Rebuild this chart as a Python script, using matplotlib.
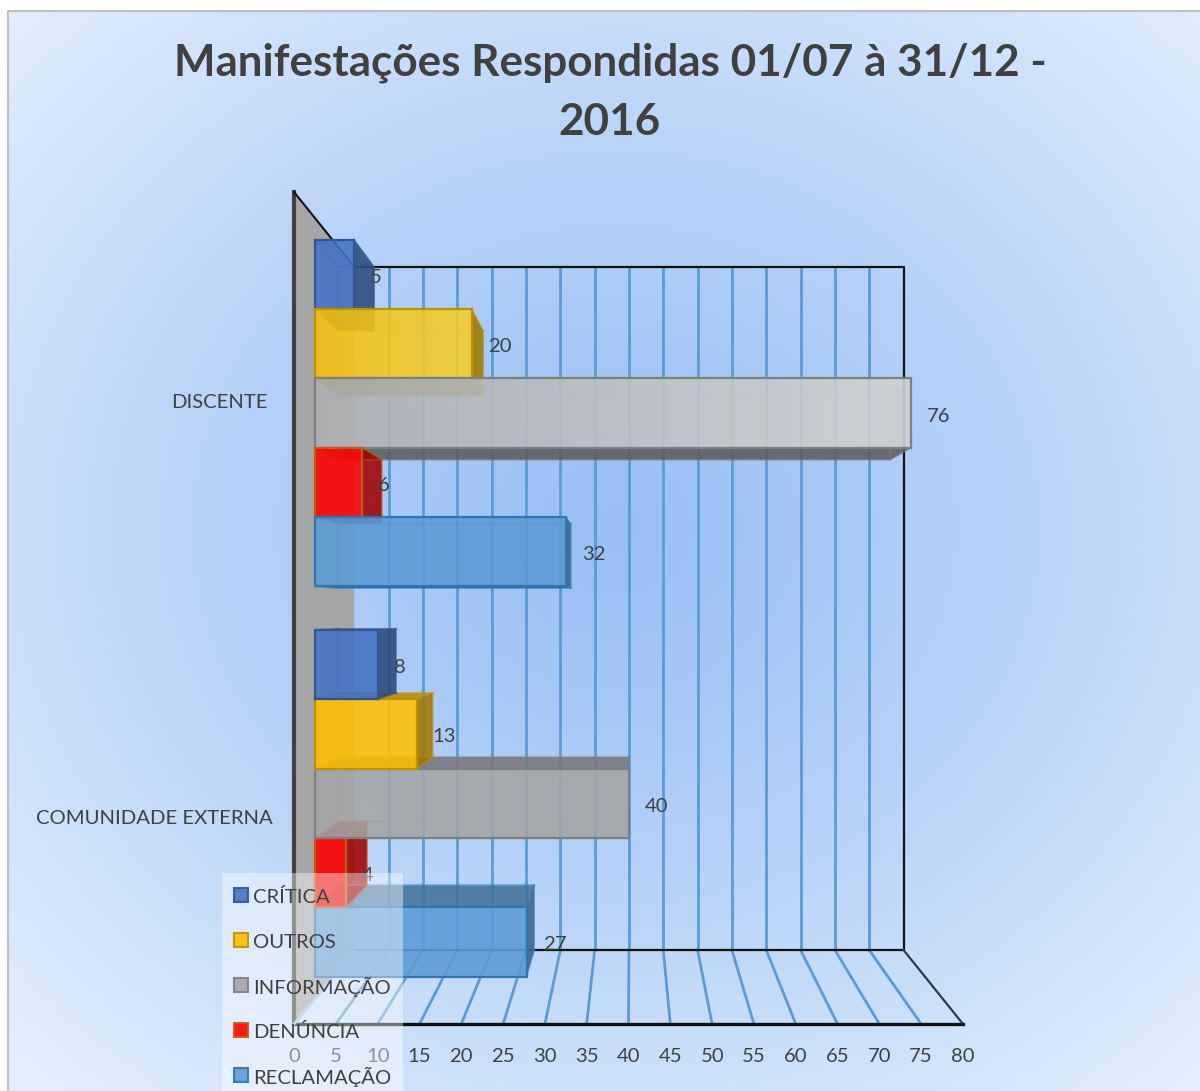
import numpy as np
import matplotlib
matplotlib.use('Agg')
import matplotlib.pyplot as plt
from matplotlib.patches import Polygon, Rectangle
from matplotlib.colors import to_rgb

plt.rcParams['font.family'] = ['Lato', 'DejaVu Sans']

title = 'Manifestações Respondidas 01/07 à 31/12 -\n2016'
groups = ['DISCENTE', 'COMUNIDADE EXTERNA']
series = ['CRÍTICA', 'OUTROS', 'INFORMAÇÃO', 'DENÚNCIA', 'RECLAMAÇÃO']
discente = [5, 20, 76, 6, 32]
comunidade = [8, 13, 40, 4, 27]
xticks = list(range(0, 85, 5))

colors = ['#4472c4', '#ffc000', '#a5a5a5', '#ff0000', '#5b9bd5']
edges = ['#2f5597', '#bf9000', '#7f7f7f', '#c55a11', '#2e75b6']
group_label_x = [219, 154]
# lit bars of the upper group fade left to right
ramps = {(0, 1): ('#f4c010', '#f4cf30'), (0, 2): ('#aeb0b2', '#d2d2d2')}

# perspective of the chart box, screen pixels
VX, VY = 631, 611          # vanishing point
X0, SX = 294, 8.3625       # front plane: pixels for value 0 and per unit
TOP, BOTTOM = 192, 1024    # front plane top / floor
S_BACK = 0.821             # depth scale of the back wall
S_BAR_F, S_BAR_B = 0.938, 0.869  # depth scale of bar front / back
BAR_H = 73.9
BAND = (BOTTOM - TOP) / len(groups)
GAP = (BAND - BAR_H * len(series)) / 2
FS = 14.6


def proj(v, h, s):
    return (VX + s * (X0 + SX * v - VX), VY + s * (h - VY))


def shade(c, f):
    return tuple(np.array(to_rgb(c)) * f)


fig = plt.figure(figsize=(12, 10.91), dpi=100)
ax = fig.add_axes([0, 0, 1, 1])

# background
yy, xx = np.mgrid[0:1091:4, 0:1200:4]
r = np.hypot((xx - 610) / 850, (yy - 520) / 760)
r = np.clip(r, 0, 1)[..., None] ** 1.2
inner = np.array([0.60, 0.75, 0.96])
outer = np.array([0.89, 0.935, 0.99])
ax.imshow(inner * (1 - r) + outer * r, extent=(8, 1200, 1091, 11), zorder=0,
          interpolation='bilinear', aspect='auto')
ax.plot([8, 8, 1200], [1091, 11, 11], color='#bfbfbf', lw=1.5, zorder=1)

# left wall
wall = [proj(0, TOP, 1), proj(0, TOP, S_BACK), proj(0, BOTTOM, S_BACK), proj(0, BOTTOM, 1)]
ax.add_patch(Polygon(wall, fc='#a6a6a6', ec='none', zorder=2))
ax.plot(*zip(wall[0], wall[3]), color='#404040', lw=3, zorder=2.1)
ax.plot(*zip(wall[0], wall[1]), color='#111111', lw=1.5, zorder=2.1)

# grid on back wall and floor
for v in xticks:
    a, b, c = proj(v, TOP, S_BACK), proj(v, BOTTOM, S_BACK), proj(v, BOTTOM, 1)
    if v > 0 and v < xticks[-1]:
        ax.plot(*zip(a, b), color='#5b9bd5', lw=2, zorder=2)
    if v < xticks[-1]:
        ax.plot(*zip(b, c), color='#5b9bd5', lw=2, zorder=2)
ax.plot(*zip(proj(0, TOP, S_BACK), proj(80, TOP, S_BACK), proj(80, BOTTOM, S_BACK),
             proj(0, BOTTOM, S_BACK)), color='#111111', lw=1.6, zorder=2.2)
ax.plot(*zip(proj(80, BOTTOM, S_BACK), proj(80, BOTTOM, 1)), color='#2b3a4a', lw=1.6, zorder=2.2)
ax.plot(*zip(proj(0, BOTTOM, 1), proj(80, BOTTOM, 1)), color='#111111', lw=2.4, zorder=2.2)
ax.plot(*zip(proj(0, BOTTOM, S_BACK), proj(0, BOTTOM, 1)), color='#9cc3e8', lw=2, zorder=2.3)


def draw_bar(v, h0, h1, k, z, ramp=None):
    f0, f1 = proj(0, h0, S_BAR_F), proj(v, h0, S_BAR_F)
    f2, f3 = proj(v, h1, S_BAR_F), proj(0, h1, S_BAR_F)
    b0, b1 = proj(0, h0, S_BAR_B), proj(v, h0, S_BAR_B)
    b2, b3 = proj(v, h1, S_BAR_B), proj(0, h1, S_BAR_B)
    fill, edge = colors[k], edges[k]
    above = h1 < VY
    short = f1[0] < VX
    # inner faces first, outward facing ones strong
    faces = [([b0, b1, b2, b3], fill, 0.10),
             ([f0, f3, b3, b0], fill, 0.10),
             ([f3, f2, b2, b3], shade(fill, 0.55), 0.85 if above else 0.08),
             ([f0, f1, b1, b0], shade(fill, 0.72), 0.08 if above else 0.85),
             ([f1, f2, b2, b1], shade(fill, 0.62), 0.85 if short else 0.3)]
    for i, (pts, c, a) in enumerate(faces):
        ax.add_patch(Polygon(pts, fc=c, ec='none', alpha=a, zorder=z + i * 0.01))
    ec_rgba = to_rgb(edge) + (0.45,)
    for p, q in [(b0, b1), (b1, b2), (b2, b3), (b3, b0), (f0, b0), (f1, b1), (f2, b2), (f3, b3)]:
        ax.plot(*zip(p, q), color=ec_rgba, lw=1.3, zorder=z + 0.06)
    front = [f0, f1, f2, f3]
    if ramp:
        grad = np.linspace(to_rgb(ramp[0]), to_rgb(ramp[1]), 64)[None, ...]
        im = ax.imshow(grad, extent=(f0[0], f1[0], f2[1], f0[1]), alpha=0.88, aspect='auto',
                       zorder=z + 0.07)
        im.set_clip_path(Polygon(front, transform=ax.transData))
    else:
        ax.add_patch(Polygon(front, fc=fill, ec='none', alpha=0.87, zorder=z + 0.07))
    ax.add_patch(Polygon(front, fc='none', ec=edge, lw=1.6, zorder=z + 0.08))
    return f1, f2


# bars, furthest from the vanishing line first so the nearer ones overlap them
for g, vals in enumerate([discente, comunidade]):
    for k, v in enumerate(vals):
        h0 = TOP + g * BAND + GAP + k * BAR_H
        h1 = h0 + BAR_H
        z = 3 + g + (k if g == 0 else len(vals) - k) * 0.1
        f1, f2 = draw_bar(v, h0, h1, k, z, ramp=ramps.get((g, k)))
        ax.text(f1[0] + 16, (f1[1] + f2[1]) / 2 + 3, str(v), ha='left', va='center',
                fontsize=FS, color='#404040', zorder=6)
    ax.text(group_label_x[g], TOP + g * BAND + BAND / 2 + 3, groups[g], ha='center', va='center',
            fontsize=FS, color='#404040', zorder=6)

# x tick labels
for v in xticks:
    ax.text(proj(v, BOTTOM, 1)[0], 1056, str(v), ha='center', va='center',
            fontsize=FS, color='#404040', zorder=6)

ax.text(610, 92, title, ha='center', va='center', fontsize=31.7, fontweight='bold',
        color='#404040', linespacing=1.58, zorder=6)

# legend sits on a translucent white panel
ax.add_patch(Rectangle((222, 873), 181, 218, fc='white', ec='none', alpha=0.42, zorder=7))
for k, name in enumerate(series):
    y = 895 + k * 45
    ax.add_patch(Rectangle((234, y - 7), 14, 14, fc=colors[k], ec=edges[k], lw=1.5, alpha=0.9, zorder=8))
    ax.text(253, y + 2, name, ha='left', va='center', fontsize=FS, color='#404040', zorder=8)

ax.set_xlim(0, 1200)
ax.set_ylim(1091, 0)
ax.axis('off')
fig.savefig('out.png', dpi=100, facecolor='white')
